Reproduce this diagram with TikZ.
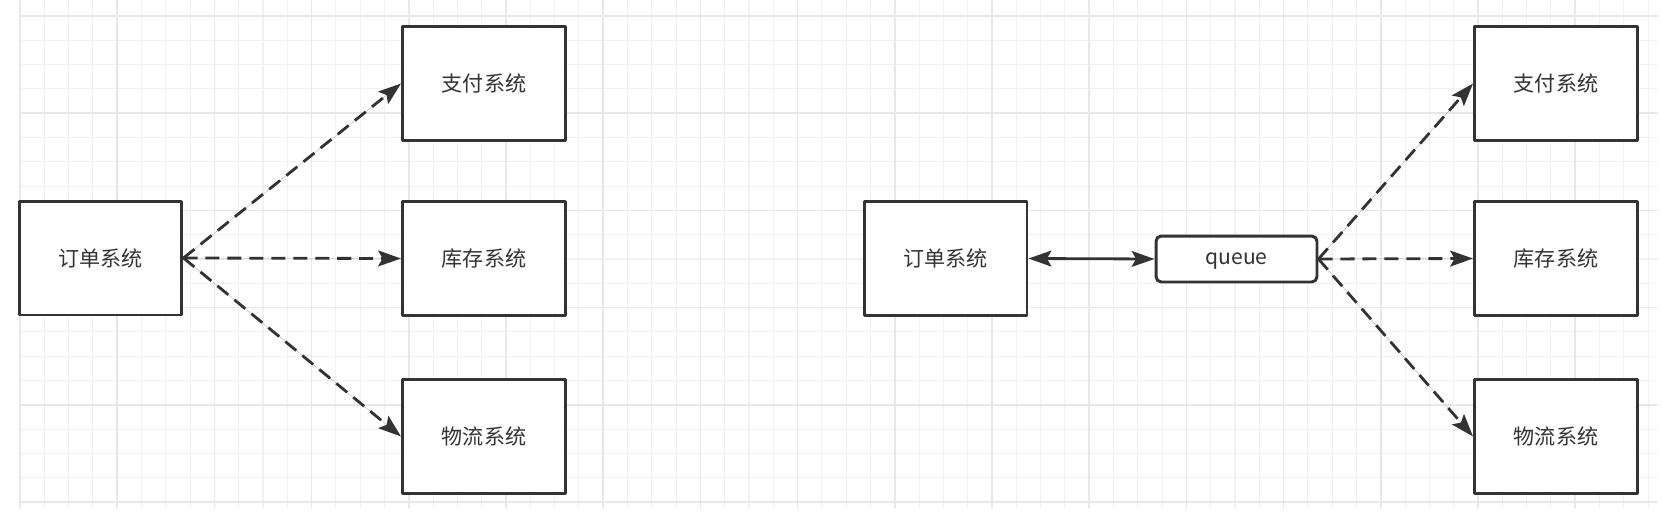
\documentclass[tikz,border=0pt]{standalone}
\usepackage{fontspec}
\setmainfont{Noto Sans CJK SC}
\usetikzlibrary{arrows.meta}
\definecolor{ink}{HTML}{333333}
\definecolor{gridminor}{HTML}{F1F1F1}
\definecolor{gridmajor}{HTML}{E8E8E8}

\begin{document}
\begin{tikzpicture}[line cap=round,line join=round,>={Stealth[length=13pt,width=9pt,inset=2.5pt]},x=0.02cm,y=-0.02cm,
  gridline/.style={line width=0.6pt,color=gridminor},
  gridbold/.style={line width=0.9pt,color=gridmajor},
  sysbox/.style={draw=ink,line width=1.7pt,fill=white,minimum width=3.26cm,minimum height=2.28cm,inner sep=0pt,text=ink,font=\fontsize{12pt}{14pt}\selectfont},
  queuebox/.style={draw=ink,line width=1.7pt,fill=white,rounded corners=3pt,minimum width=3.22cm,minimum height=0.92cm,inner sep=0pt,text height=0.8em,text depth=0.2em,text=ink,font=\fontsize{12pt}{14pt}\selectfont},
  dasharrow/.style={->,draw=ink,fill=ink,line width=1.6pt,dash pattern=on 8pt off 4.5pt,line cap=butt},
  botharrow/.style={<->,draw=ink,fill=ink,line width=1.6pt}]
\useasboundingbox (0,0) rectangle (1662,514);
% background grid
\foreach \i in {0,...,67} \draw [gridline] ({20+24.3*\i},0) -- ({20+24.3*\i},508);
\foreach \j in {0,...,20} \draw [gridline] (20,{502-24.3*\j}) -- (1657,{502-24.3*\j});
\foreach \i in {0,...,16} \draw [gridbold] ({20+97.2*\i},0) -- ({20+97.2*\i},508);
\foreach \j in {0,...,5} \draw [gridbold] (20,{502-97.2*\j}) -- (1657,{502-97.2*\j});
% direct calls
\node [sysbox] (orderA) at (100.5,258) {订单系统};
\node [sysbox] (payA) at (484,83.5) {支付系统};
\node [sysbox] (stockA) at (484,258.5) {库存系统};
\node [sysbox] (shipA) at (484,436.5) {物流系统};
\draw [dasharrow] (orderA.east) -- (payA.west);
\draw [dasharrow] (orderA.east) -- (stockA.west);
\draw [dasharrow] (orderA.east) -- (shipA.west);
% through a queue
\node [sysbox] (orderB) at (945.5,258.5) {订单系统};
\node [queuebox] (queue) at (1236.5,259) {queue};
\node [sysbox] (payB) at (1556,83.5) {支付系统};
\node [sysbox] (stockB) at (1556,258.5) {库存系统};
\node [sysbox] (shipB) at (1556,436.5) {物流系统};
\draw [botharrow] (orderB.east) -- (queue.west);
\draw [dasharrow] (queue.east) -- (payB.west);
\draw [dasharrow] (queue.east) -- (stockB.west);
\draw [dasharrow] (queue.east) -- (shipB.west);
\end{tikzpicture}
\end{document}
